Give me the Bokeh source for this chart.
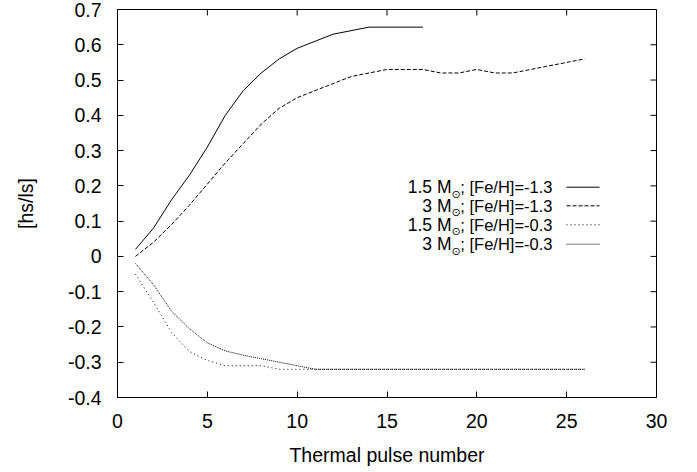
from bokeh.plotting import figure
from bokeh.models import FixedTicker, Range1d, Label
from bokeh.embed import file_html
from bokeh.resources import INLINE

# ---------------- data ----------------
pulses_15_m13 = list(range(1, 18))
hs_ls_15_m13 = [0.02, 0.08, 0.16, 0.23, 0.31, 0.40, 0.47, 0.52, 0.56, 0.59,
                0.61, 0.63, 0.64, 0.65, 0.65, 0.65, 0.65]

pulses_3_m13 = list(range(1, 27))
hs_ls_3_m13 = [0.0, 0.04, 0.09, 0.145, 0.205, 0.265, 0.32, 0.375, 0.42, 0.45,
               0.47, 0.49, 0.51, 0.52, 0.53, 0.53, 0.53, 0.52, 0.52, 0.53,
               0.52, 0.52, 0.53, 0.54, 0.55, 0.56]

pulses_15_m03 = list(range(1, 27))
hs_ls_15_m03 = [-0.05, -0.13, -0.215, -0.27, -0.295, -0.31, -0.31, -0.31, -0.32, -0.32,
                -0.32, -0.32, -0.32, -0.32, -0.32, -0.32, -0.32, -0.32, -0.32, -0.32,
                -0.32, -0.32, -0.32, -0.32, -0.32, -0.32]

pulses_3_m03 = list(range(1, 27))
hs_ls_3_m03 = [-0.02, -0.08, -0.155, -0.205, -0.245, -0.268, -0.28, -0.29, -0.30, -0.31,
               -0.32, -0.32, -0.32, -0.32, -0.32, -0.32, -0.32, -0.32, -0.32, -0.32,
               -0.32, -0.32, -0.32, -0.32, -0.32, -0.32]

legend_prefix = ["1.5 M", "3 M", "1.5 M", "3 M"]
legend_suffix = ["; [Fe/H]=-1.3", "; [Fe/H]=-1.3", "; [Fe/H]=-0.3", "; [Fe/H]=-0.3"]

x_ticks = [0, 5, 10, 15, 20, 25, 30]
y_ticks = [-0.4, -0.3, -0.2, -0.1, 0.0, 0.1, 0.2, 0.3, 0.4, 0.5, 0.6, 0.7]
y_tick_labels = ["-0.4", "-0.3", "-0.2", "-0.1", "0", "0.1", "0.2", "0.3", "0.4", "0.5", "0.6", "0.7"]

# ---------------- figure ----------------
FONT = "Liberation Sans"
W, H = 697, 472
BL, BR, BT, BB = 117, 41, 9, 75
X0, X1 = 0, 30
Y0, Y1 = -0.4, 0.7
FW = W - BL - BR
FH = H - BT - BB
TICK = 6

p = figure(width=W, height=H, output_backend="svg", toolbar_location=None,
           x_range=Range1d(X0, X1), y_range=Range1d(Y0, Y1),
           min_border_left=BL, min_border_right=BR, min_border_top=BT, min_border_bottom=BB)
p.background_fill_color = "white"
p.border_fill_color = "white"
p.outline_line_color = "black"
p.outline_line_width = 1
p.grid.visible = False

xa = p.xaxis[0]
ya = p.yaxis[0]
for ax in (xa, ya):
    ax.axis_line_color = "black"
    ax.major_tick_line_color = "black"
    ax.major_tick_in = TICK
    ax.major_tick_out = 0
    ax.minor_tick_line_color = None
    ax.major_label_text_font = FONT
    ax.major_label_text_font_size = "19.5px"
    ax.major_label_text_color = "black"
    ax.axis_label_text_font = FONT
    ax.axis_label_text_font_size = "19.5px"
    ax.axis_label_text_font_style = "normal"
    ax.axis_label_text_color = "black"

xa.ticker = FixedTicker(ticks=x_ticks)
ya.ticker = FixedTicker(ticks=y_ticks)
ya.major_label_overrides = {t: l for t, l in zip(y_ticks, y_tick_labels)}
xa.major_label_standoff = 16
ya.major_label_standoff = 16
xa.axis_label = "Thermal pulse number"
ya.axis_label = "[hs/ls]"
xa.axis_label_standoff = 13
ya.axis_label_standoff = 28

# mirrored inward ticks on top and right borders
ty = TICK / FH * (Y1 - Y0)
tx = TICK / FW * (X1 - X0)
p.segment(x0=x_ticks, y0=[Y1] * len(x_ticks), x1=x_ticks, y1=[Y1 - ty] * len(x_ticks),
          line_color="black", line_width=1)
p.segment(x0=[X1 - tx] * len(y_ticks), y0=y_ticks, x1=[X1] * len(y_ticks), y1=y_ticks,
          line_color="black", line_width=1)

# ---------------- curves ----------------
dashes = ["solid", "4 2", "1 3", "1 1"]
series = [(pulses_15_m13, hs_ls_15_m13), (pulses_3_m13, hs_ls_3_m13),
          (pulses_15_m03, hs_ls_15_m03), (pulses_3_m03, hs_ls_3_m03)]
for (xs, ys), d in zip(series, dashes):
    p.line(xs, ys, line_color="black", line_width=1, line_dash=d)

# ---------------- legend (custom, gnuplot style) ----------------
def dx(px):
    return X0 + (px - BL) / FW * (X1 - X0)

def dy(py):
    return Y1 - (py - BT) / FH * (Y1 - Y0)

row_py = [186.7, 205.3, 224.3, 243.7]
for i, ry in enumerate(row_py):
    p.add_layout(Label(x=dx(552), y=dy(ry), text=legend_suffix[i], text_align="right",
                       text_baseline="middle", text_font=FONT, text_font_size="16.5px",
                       text_color="black"))
    p.add_layout(Label(x=dx(451), y=dy(ry), text=legend_prefix[i], text_align="right",
                       text_baseline="middle", text_font=FONT, text_font_size="17.5px",
                       text_color="black"))
    p.add_layout(Label(x=dx(455.5), y=dy(ry + 7), text="\u2299", text_align="center",
                       text_baseline="middle", text_font="DejaVu Sans", text_font_size="11px",
                       text_color="black"))
    p.line([dx(566), dx(599)], [dy(ry), dy(ry)], line_color="black", line_width=1,
           line_dash=dashes[i])

open("out.html", "w").write(file_html(p, INLINE))
